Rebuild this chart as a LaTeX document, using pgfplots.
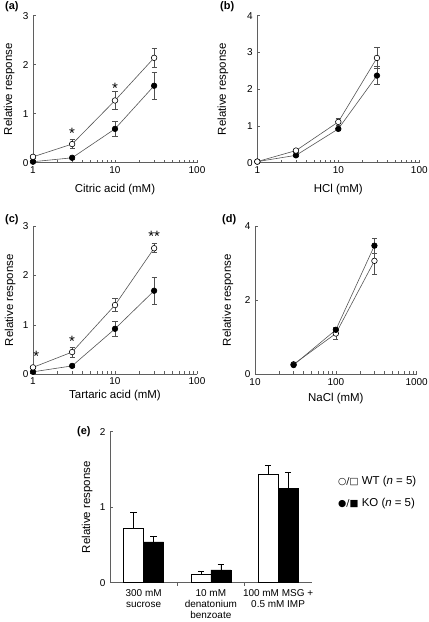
\documentclass[border=0pt]{standalone}
\usepackage{pgfplots}
\pgfplotsset{compat=1.18}
\usepackage{fontspec}
\setmainfont{Liberation Sans}
\newfontfamily\sym{DejaVu Sans}
\definecolor{axgray}{RGB}{95,95,95}
\definecolor{linegray}{RGB}{85,85,85}
\definecolor{errgray}{RGB}{80,80,80}

\pgfplotsset{
  base/.style={
    scale only axis, axis lines=left, clip=false,
    axis line style={draw=axgray, line width=0.6bp, -},
    tick align=inside, major tick length=3bp,
    every tick/.style={draw=axgray, line width=0.6bp},
    ticklabel style={font=\fontsize{10}{11}\selectfont},
    yticklabel style={xshift=-1bp},
    /pgf/number format/assume math mode=true,
    label style={font=\fontsize{11.5}{13}\selectfont},
    ymin=0,
  },
  wt/.style={color=linegray, line width=0.6bp, mark=*, mark size=2.8bp,
    mark options={draw=black, fill=white, line width=0.6bp},
    error bars/.cd, y dir=both, y explicit,
    error bar style={draw=errgray, line width=0.6bp},
    error mark options={rotate=90, mark size=2.6bp, draw=errgray, line width=0.6bp}},
  ko/.style={color=linegray, line width=0.6bp, mark=*, mark size=2.8bp,
    mark options={draw=black, fill=black},
    error bars/.cd, y dir=both, y explicit,
    error bar style={draw=errgray, line width=0.6bp},
    error mark options={rotate=90, mark size=2.6bp, draw=errgray, line width=0.6bp}},
}
\tikzset{star/.style={anchor=base, yshift=-8.5bp, inner sep=0pt, font=\fontsize{15}{16}\selectfont}}

\begin{document}
\begin{tikzpicture}
\useasboundingbox (0,0) rectangle (429bp,622bp);

% (a)
\begin{axis}[base, xmode=log, minor xtick={}, at={(33bp,459.3bp)}, anchor=south west,
  width=164bp, height=147bp, xmin=1, xmax=100, ymax=3,
  xtick={1,10,100}, xticklabels={1,10,100}, ytick={0,1,2,3},
  xlabel={Citric acid (mM)}, ylabel={Relative response},
  xlabel style={at={(axis description cs:0.5,-0.18)}, anchor=center},
  ylabel style={at={(axis description cs:-0.146,0.5)}, anchor=center}]
\addplot[ko] coordinates {(1,0.02) +- (0,0.02) (3,0.10) +- (0,0.03) (10,0.69) +- (0,0.16) (30,1.57) +- (0,0.28)};
\addplot[wt] coordinates {(1,0.12) +- (0,0.03) (3,0.38) +- (0,0.09) (10,1.27) +- (0,0.18) (30,2.14) +- (0,0.20)};
\node[star] at (axis cs:3,0.667) {*};
\node[star] at (axis cs:10,1.586) {*};
\end{axis}

% (b)
\begin{axis}[base, xmode=log, minor xtick={}, at={(257.3bp,459.3bp)}, anchor=south west,
  width=162bp, height=147bp, xmin=1, xmax=100, ymax=4,
  xtick={1,10,100}, xticklabels={1,10,100}, ytick={0,1,2,3,4},
  xlabel={HCl (mM)}, ylabel={Relative response},
  xlabel style={at={(axis description cs:0.5,-0.18)}, anchor=center},
  ylabel style={at={(axis description cs:-0.212,0.5)}, anchor=center}]
\addplot[ko] coordinates {(1,0.03) +- (0,0.02) (3,0.20) +- (0,0.03) (10,0.92) +- (0,0.05) (30,2.37) +- (0,0.25)};
\addplot[wt] coordinates {(1,0.03) +- (0,0.02) (3,0.33) +- (0,0.04) (10,1.11) +- (0,0.10) (30,2.85) +- (0,0.28)};
\end{axis}

% (c)
\begin{axis}[base, xmode=log, minor xtick={}, at={(33bp,247.7bp)}, anchor=south west,
  width=164bp, height=148.3bp, xmin=1, xmax=100, ymax=3,
  xtick={1,10,100}, xticklabels={1,10,100}, ytick={0,1,2,3},
  xlabel={Tartaric acid (mM)}, ylabel={Relative response},
  xlabel style={at={(axis description cs:0.5,-0.14)}, anchor=center},
  ylabel style={at={(axis description cs:-0.14,0.5)}, anchor=center}]
\addplot[ko] coordinates {(1,0.05) +- (0,0.02) (3,0.17) +- (0,0.03) (10,0.92) +- (0,0.16) (30,1.69) +- (0,0.28)};
\addplot[wt] coordinates {(1,0.14) +- (0,0.02) (3,0.45) +- (0,0.10) (10,1.40) +- (0,0.13) (30,2.55) +- (0,0.09)};
\node[star] at (axis cs:1.1,0.425) {*};
\node[star] at (axis cs:3,0.74) {*};
\node[star] at (axis cs:30,2.85) {**};
\end{axis}

% (d)
\begin{axis}[base, xmode=log, minor xtick={}, at={(255bp,247.7bp)}, anchor=south west,
  width=161.7bp, height=148.3bp, xmin=10, xmax=1000, ymax=4,
  xtick={10,100,1000}, xticklabels={10,100,1000}, ytick={0,2,4},
  xticklabel style={yshift=-1bp},
  xlabel={NaCl (mM)}, ylabel={Relative response},
  xlabel style={at={(axis description cs:0.5,-0.162)}, anchor=center},
  ylabel style={at={(axis description cs:-0.167,0.5)}, anchor=center}]
\addplot[wt] coordinates {(30,0.27) +- (0,0.05) (100,1.10) +- (0,0.15) (300,3.06) +- (0,0.37)};
\addplot[ko] coordinates {(30,0.25) +- (0,0.03) (100,1.20) +- (0,0.08) (300,3.47) +- (0,0.20)};
\end{axis}

% (e)
\begin{axis}[base, at={(110bp,39.3bp)}, anchor=south west,
  width=201.7bp, height=151bp, xmin=-0.5, xmax=2.5, ymax=2,
  ybar=0pt, bar width=20bp,
  ytick={0,1,2}, xtick={0,1,2},
  xticklabels={{300 mM\\sucrose},{10 mM\\denatonium\\benzoate},{100 mM MSG +\\0.5 mM IMP}},
  xticklabel style={align=center},
  xtick style={draw=none},
  extra x ticks={0.5,1.5}, extra x tick labels={},
  extra x tick style={xtick style={draw=axgray, line width=0.6bp}},
  ylabel={Relative response},
  ylabel style={at={(axis description cs:-0.113,0.5)}, anchor=center}]
\addplot[fill=white, draw=black, line width=0.6bp,
  error bars/.cd, y dir=plus, y explicit,
  error bar style={draw=black, line width=0.6bp},
  error mark options={rotate=90, mark size=3.3bp, draw=black, line width=0.6bp}]
  coordinates {(0,0.72) +- (0,0.21) (1,0.11) +- (0,0.035) (2,1.43) +- (0,0.12)};
\addplot[fill=black, draw=black, line width=0.6bp,
  error bars/.cd, y dir=plus, y explicit,
  error bar style={draw=black, line width=0.6bp},
  error mark options={rotate=90, mark size=3.3bp, draw=black, line width=0.6bp}]
  coordinates {(0,0.54) +- (0,0.07) (1,0.17) +- (0,0.07) (2,1.25) +- (0,0.21)};
\end{axis}

% panel labels
\node[anchor=west, inner sep=0pt, font=\bfseries\fontsize{11}{13}\selectfont] at (5bp,615bp) {(a)};
\node[anchor=west, inner sep=0pt, font=\bfseries\fontsize{11}{13}\selectfont] at (220bp,615bp) {(b)};
\node[anchor=west, inner sep=0pt, font=\bfseries\fontsize{11}{13}\selectfont] at (5bp,402bp) {(c)};
\node[anchor=west, inner sep=0pt, font=\bfseries\fontsize{11}{13}\selectfont] at (222bp,402bp) {(d)};
\node[anchor=west, inner sep=0pt, font=\bfseries\fontsize{11}{13}\selectfont] at (77bp,190.3bp) {(e)};

% legend
\node[anchor=west, inner sep=0pt, font=\fontsize{11.5}{13}\selectfont] at (338bp,140.3bp) {{\sym\fontsize{9.5}{11}\selectfont ○/□} WT (\textit{n} = 5)};
\node[anchor=west, inner sep=0pt, font=\fontsize{11.5}{13}\selectfont] at (338bp,118.7bp) {{\sym\fontsize{9.5}{11}\selectfont ●/■} KO (\textit{n} = 5)};
\end{tikzpicture}
\end{document}
